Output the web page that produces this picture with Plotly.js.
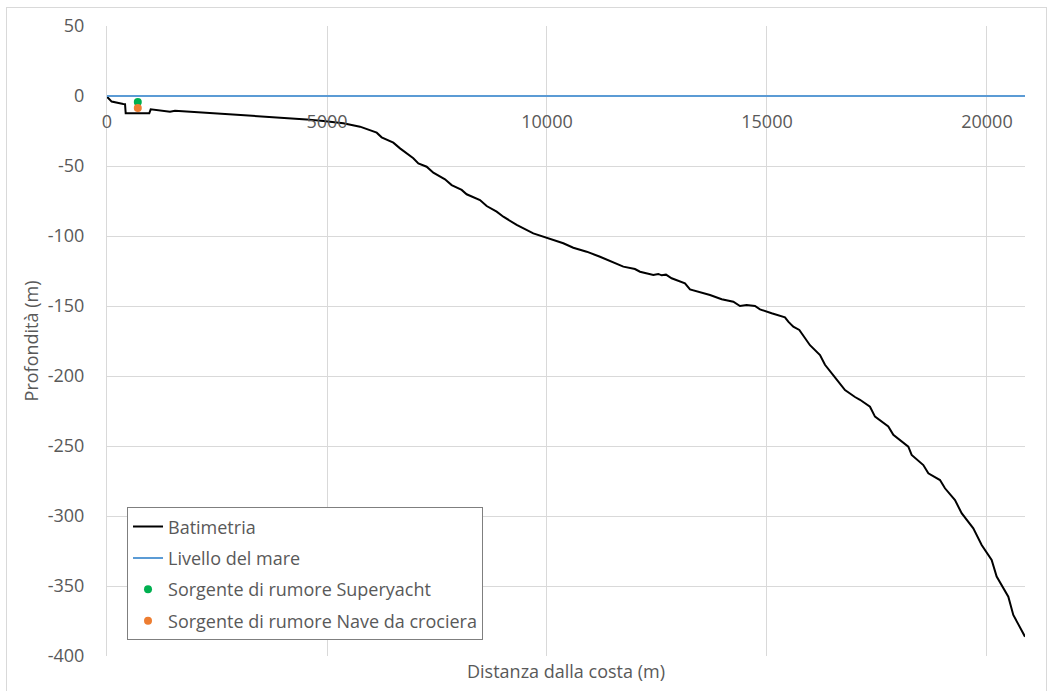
<!DOCTYPE html>
<html>
<head>
<meta charset="utf-8">
<script src="https://cdn.plot.ly/plotly-3.0.1.min.js"></script>
<style>
  html, body { margin: 0; padding: 0; background: #fff; }
  #wrap { position: relative; width: 1054px; height: 691px; }
  #chart { width: 1054px; height: 691px; }
  #frame { position: absolute; left: 6px; top: 7px; width: 1041px; height: 690px; border: 1px solid #d9d9d9; pointer-events: none; box-sizing: border-box; }
</style>
</head>
<body>
<div id="wrap">
  <div id="chart"></div>
  <div id="frame"></div>
</div>
<script>
const bathyDist = [0, 106, 370, 410, 425, 961, 993, 1129, 1432, 1545, 1886, 2265, 2644, 3023, 3402, 3780, 4159, 4538, 4916, 5371, 5750, 6130, 6242, 6508, 6660, 6962, 7076, 7265, 7417, 7682, 7833, 8061, 8174, 8477, 8629, 8856, 9008, 9311, 9689, 10030, 10371, 10598, 10902, 11205, 11432, 11735, 11999, 12114, 12417, 12530, 12606, 12705, 12833, 13136, 13250, 13515, 13705, 13970, 14235, 14386, 14538, 14727, 14841, 15106, 15409, 15484, 15598, 15735, 15977, 16205, 16318, 16545, 16773, 17000, 17114, 17341, 17455, 17757, 17871, 18212, 18288, 18553, 18667, 18932, 19045, 19273, 19424, 19689, 19879, 20106, 20220, 20485, 20598, 20864];
const bathyDepth = [-0.5, -4, -5.7, -5.8, -12.4, -12.4, -9.5, -10, -11.2, -10.5, -11.2, -11.9, -12.4, -13.1, -14, -14.7, -15.9, -16.7, -17.9, -19.5, -21.9, -26.2, -29.5, -33.3, -37.4, -44.5, -48.1, -50.5, -54.8, -59.5, -63.6, -67.1, -70.2, -74.3, -78.6, -82.6, -86.2, -92.1, -98.1, -101.6, -105.2, -108.4, -111.2, -114.8, -117.9, -121.9, -123.6, -125.5, -127.9, -127.1, -128.1, -127.6, -130.2, -133.8, -138.1, -140.2, -142.1, -145.2, -146.9, -150, -149.3, -150, -152.4, -155.2, -158.1, -161.2, -164.8, -167.1, -178, -185, -192, -201, -210, -215, -217, -222, -229, -236, -242, -250.5, -256.4, -263.6, -269.5, -274.3, -280.2, -288.6, -298, -308.8, -320.7, -331.4, -343.3, -357.6, -370.7, -386.2];
const seaDist = [0, 20864];
const seaLevel = [0, 0];
const yachtDist = [700];
const yachtDepth = [-4.3];
const cruiseDist = [700];
const cruiseDepth = [-8.6];
const seriesNames = ["Batimetria", "Livello del mare", "Sorgente di rumore Superyacht", "Sorgente di rumore Nave da crociera"];
const xTickVals = [0, 5000, 10000, 15000, 20000];
const xTickText = ["0", "5000", "10000", "15000", "20000"];
const yTickVals = [50, 0, -50, -100, -150, -200, -250, -300, -350, -400];
const yTickText = ["50", "0", "-50", "-100", "-150", "-200", "-250", "-300", "-350", "-400"];

const FONT = "'Open Sans', 'Liberation Sans', sans-serif";
const TXT = "#595959";

const traces = [
  {x: bathyDist, y: bathyDepth, mode: "lines", name: seriesNames[0], legendgroup: "a",
   line: {color: "#000000", width: 2}},
  {x: seaDist, y: seaLevel, mode: "lines", name: seriesNames[1], legendgroup: "b",
   line: {color: "#5b9bd5", width: 2}},
  {x: yachtDist, y: yachtDepth, mode: "markers", name: seriesNames[2], legendgroup: "c",
   marker: {color: "#00b050", size: 8}},
  {x: cruiseDist, y: cruiseDepth, mode: "markers", name: seriesNames[3], legendgroup: "d",
   marker: {color: "#ed7d31", size: 8}}
];

const layout = {
  width: 1054, height: 691,
  margin: {l: 107, r: 29, t: 26, b: 35},
  paper_bgcolor: "#ffffff", plot_bgcolor: "#ffffff",
  font: {family: FONT, size: 18, color: TXT},
  showlegend: true,
  legend: {
    x: 0.0218, y: 0.236, xanchor: "left", yanchor: "top",
    bordercolor: "#7f7f7f", borderwidth: 1, bgcolor: "#ffffff",
    font: {family: FONT, size: 18, color: TXT},
    tracegroupgap: 5, itemwidth: 30
  },
  xaxis: {
    range: [0, 20864], tickvals: xTickVals, ticktext: xTickText,
    showgrid: true, gridcolor: "#d9d9d9", gridwidth: 1,
    zeroline: false, showline: false,
    anchor: "free", position: 400 / 450,
    ticks: "", ticklabelstandoff: 13,
    tickfont: {family: FONT, size: 18, color: TXT}
  },
  yaxis: {
    range: [-400, 50], tickvals: yTickVals, ticktext: yTickText,
    showgrid: true, gridcolor: "#d9d9d9", gridwidth: 1,
    zeroline: false, showline: true, linecolor: "#d9d9d9", linewidth: 1,
    ticks: "", ticklabelstandoff: 18,
    tickfont: {family: FONT, size: 18, color: TXT},
    title: {text: "Profondità (m)", font: {family: FONT, size: 18, color: TXT}, standoff: 4}
  },
  annotations: [{
    text: "Distanza dalla costa (m)", xref: "paper", yref: "paper",
    x: 0.5, y: -0.0238, xanchor: "center", yanchor: "middle", showarrow: false,
    font: {family: FONT, size: 18, color: TXT}
  }]
};

Plotly.newPlot("chart", traces, layout, {displayModeBar: false, staticPlot: true});
</script>
</body>
</html>
